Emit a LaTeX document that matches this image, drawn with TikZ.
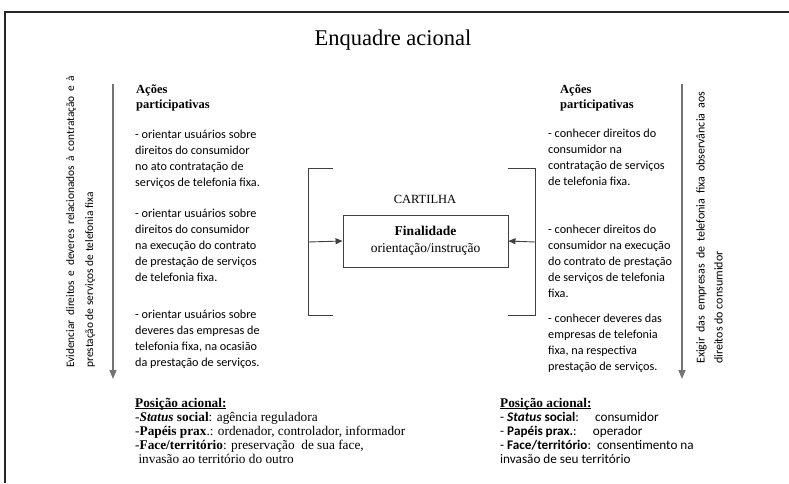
\documentclass[tikz,border=0pt]{standalone}
\usepackage{fontspec}
\setmainfont{Liberation Serif}
\newfontfamily\calfont{Carlito}
\usetikzlibrary{arrows.meta,positioning}
\newcommand\ulin[1]{\setbox0\hbox{#1}\rlap{\rule[-1.6pt]{\wd0}{0.6pt}}\box0}

\begin{document}
\begin{tikzpicture}[x=1pt, y=-1pt,
    colhead/.style={anchor=north west, inner sep=0pt, align=left,
        font=\bfseries\fontsize{12.5}{15}\selectfont},
    coltext/.style={anchor=north west, inner sep=0pt, align=left,
        font=\calfont\fontsize{12.2}{16}\selectfont},
    sidetext/.style={anchor=north west, inner sep=0pt, align=left, rotate=90,
        font=\calfont\fontsize{11.4}{19}\selectfont},
    postext/.style={anchor=north west, inner sep=0pt, align=left,
        font=\fontsize{13.3}{14}\selectfont},
    flow/.style={line width=1.6pt, black!55, -{Triangle[length=9pt,width=7pt]}},
    brace/.style={line width=0.9pt, black!75},
    push/.style={line width=0.9pt, black!75, -{Triangle[length=7pt,width=6pt]}}]

    \useasboundingbox (0,0) rectangle (789,483);
    \draw[line width=1.4pt, black!85] (789,12) -- (5,12) -- (5,483);

    \node (title) at (393,40) {\fontsize{22.5}{26}\selectfont Enquadre acional};

    % lados
    \coordinate (ltop) at (113,84);
    \coordinate (lbot) at (113,379);
    \coordinate (rtop) at (682,84);
    \coordinate (rbot) at (682,379);
    \draw[flow] (ltop) -- (lbot);
    \draw[flow] (rtop) -- (rbot);

    \node[sidetext] (lside) at (66,368)
        {\makebox[292pt][s]{Evidenciar direitos e deveres relacionados à contratação e à}\\
        prestação de serviços de telefonia fixa};
    \node[sidetext, font=\calfont\fontsize{12}{18}\selectfont] (rside) at (696,364)
        {\makebox[272pt][s]{Exigir das empresas de telefonia fixa observância aos}\\
        direitos do consumidor};

    % coluna esquerda
    \node[colhead] (lhead) at (136,85) {Ações\\participativas};
    \node[coltext] (lact1) at (135,130) {- orientar usuários sobre\\direitos do consumidor\\
        no ato contratação de\\serviços de telefonia fixa.};
    \node[coltext] (lact2) at (135,209) {- orientar usuários sobre\\direitos do consumidor\\
        na execução do contrato\\de prestação de serviços\\de telefonia fixa.};
    \node[coltext] (lact3) at (135,310) {- orientar usuários sobre\\deveres das empresas de\\
        telefonia fixa, na ocasião\\da prestação de serviços.};

    % coluna direita
    \node[colhead] (rhead) at (560,85) {Ações\\participativas};
    \node[coltext] (ract1) at (548,129) {- conhecer direitos do\\consumidor na\\
        contratação de serviços\\de telefonia fixa.};
    \node[coltext] (ract2) at (548,225) {- conhecer direitos do\\consumidor na execução\\
        do contrato de prestação\\de serviços de telefonia\\fixa.};
    \node[coltext] (ract3) at (548,314) {- conhecer deveres das\\empresas de telefonia\\
        fixa, na respectiva\\prestação de serviços.};

    % cartilha
    \node (cart) at (425,199) {\fontsize{12.5}{14}\selectfont CARTILHA};
    \node[draw, brace, text=black, minimum width=165pt, minimum height=52pt, align=center,
        font=\fontsize{13.5}{17}\selectfont] (fin) at (425.5,241)
        {\textbf{Finalidade}\\orientação/instrução};
    \draw[brace] (333,168) -- (308,168) -- (308,315) -- (333,315);
    \draw[brace] (508,168) -- (535,168) -- (535,315) -- (508,315);
    \coordinate (lbr) at (308,242);
    \coordinate (rbr) at (535,242);
    \draw[push] (lbr) -- (fin.west);
    \draw[push] (rbr) -- (fin.east);

    % posicao acional
    \node[postext] (lpos) at (135,398) {\textbf{\ulin{Posição acional:}}\\
        -\textbf{\textit{Status} social}: agência reguladora\\
        -\textbf{Papéis prax}.: ordenador, controlador, informador\\
        -\textbf{Face/território}: preservação\ \ de sua face,\\
        \ invasão ao território do outro};
    \node[postext, font=\calfont\fontsize{13.2}{14}\selectfont] (rpos) at (500,398)
        {{\rmfamily\bfseries\fontsize{13.3}{14}\selectfont\ulin{Posição acional:}}\\
        - \textbf{\textit{Status} social}:\quad\ consumidor\\
        - \textbf{Papéis prax.}:\quad\ operador\\
        - \textbf{Face/território}:\ \ consentimento na\\
        invasão de seu território};
\end{tikzpicture}
\end{document}
